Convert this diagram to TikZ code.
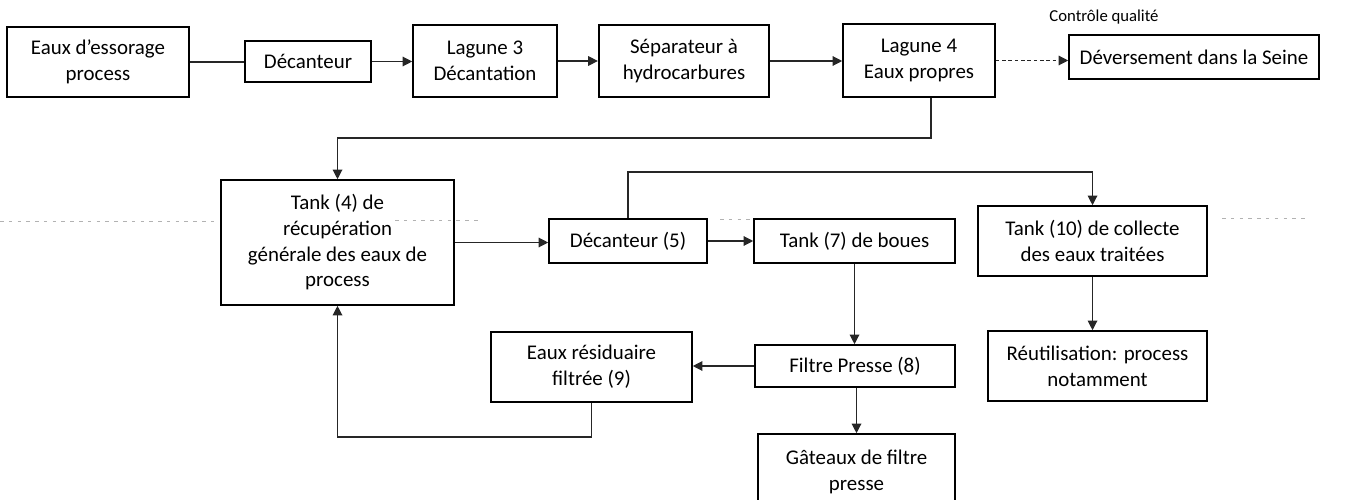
\documentclass[tikz,border=0pt]{standalone}
\usepackage{fontspec}
\setmainfont{Carlito}
\usetikzlibrary{arrows.meta}
\tikzset{
  box/.style={draw=black, line width=0.9pt, align=center, inner sep=0pt,
    font=\fontsize{11.9}{14.6}\selectfont},
  wh/.style 2 args={minimum width=#1*0.02cm, minimum height=#2*0.02cm},
  conn/.style={line width=0.7pt, draw=black!85},
  arr/.style={conn, -{Triangle[width=5.5pt,length=5.5pt]}},
  dotconn/.style={arr, dash pattern=on 2pt off 1.6pt},
  scanline/.style={draw=black!30, line width=0.5pt, dash pattern=on 2pt off 3pt}
}
\begin{document}
\begin{tikzpicture}[x=0.02cm,y=-0.02cm]
\useasboundingbox (0,0) rectangle (1359,500);
\clip (0,0) rectangle (1359,500);
% faint scan line
\draw[scanline] (0,221) -- (217,221);
\draw[scanline] (395,220) -- (480,220);
\draw[scanline] (720,219) -- (750,219);
\draw[scanline] (1222,218) -- (1307,218);
% top row
\node[box, wh={182}{70}] (eaux) at (98,62) {Eaux d’essorage\\process};
\node[box, wh={126}{41}] (dec) at (308,61.5) {Décanteur};
\node[box, wh={144}{72}] (lag3) at (485,61) {Lagune 3\\Décantation};
\node[box, wh={170}{72}, line width=1.3pt] (sep) at (684,61) {Séparateur à\\hydrocarbures};
\node[box, wh={152}{73}] (lag4) at (919,60.5) {Lagune 4\\Eaux propres};
\node[box, wh={250}{44}] (dev) at (1194,57) {Déversement dans la Seine};
\node[font=\fontsize{9.5}{11}\selectfont, inner sep=0pt] (ctrl) at (1104,17) {Contrôle qualité};
% middle row
\node[box, wh={233}{125}] (tank4) at (337.5,242.5) {Tank (4) de\\récupération\\générale des eaux de\\process};
\node[box, wh={158}{44}] (dec5) at (628,241) {Décanteur (5)};
\node[box, wh={201}{44}] (tank7) at (854.5,241) {Tank (7) de boues};
\node[box, wh={229}{70}] (tank10) at (1092.5,241) {Tank (10) de collecte\\des eaux traitées};
% bottom rows
\node[box, wh={201}{70}] (eaures) at (591.5,367) {Eaux résiduaire\\filtrée (9)};
\node[box, wh={200}{42}] (filtre) at (855,366) {Filtre Presse (8)};
\node[box, wh={219}{70}] (reut) at (1097.5,366) {Réutilisation: process\\notamment};
\node[box, wh={197}{76}] (gat) at (856.5,472) {Gâteaux de filtre\\presse};
% helper coordinates
\coordinate (c1) at (931,138);
\coordinate (c2) at (700,172);
\coordinate (c3) at (450,437);
% connectors top
\draw[conn] (eaux.east) -- (eaux.east -| dec.west);
\draw[arr] (dec.east) -- (dec.east -| lag3.west);
\draw[arr] (lag3.east) -- (lag3.east -| sep.west);
\draw[arr] (sep.east) -- (sep.east -| lag4.west);
\draw[dotconn] (lag4.east) -- (lag4.east -| dev.west);
\draw[arr] (lag4.south -| c1) -- (c1) -| (tank4.north);
% middle
\draw[arr] (tank4.east) -- (tank4.east -| dec5.west);
\draw[arr] (dec5.east) -- (dec5.east -| tank7.west);
\draw[arr] (dec5.north) |- (c2) -| (tank10.north);
\draw[arr] (tank7.south) -- (tank7.south |- filtre.north);
\draw[arr] (tank10.south) -- (tank10.south |- reut.north);
% bottom
\draw[arr] (filtre.west) -- (filtre.west -| eaures.east);
\draw[arr] (filtre.south -| gat.north) -- (gat.north);
\draw[arr] (eaures.south) |- (c3) -| (tank4.south);
\end{tikzpicture}
\end{document}
